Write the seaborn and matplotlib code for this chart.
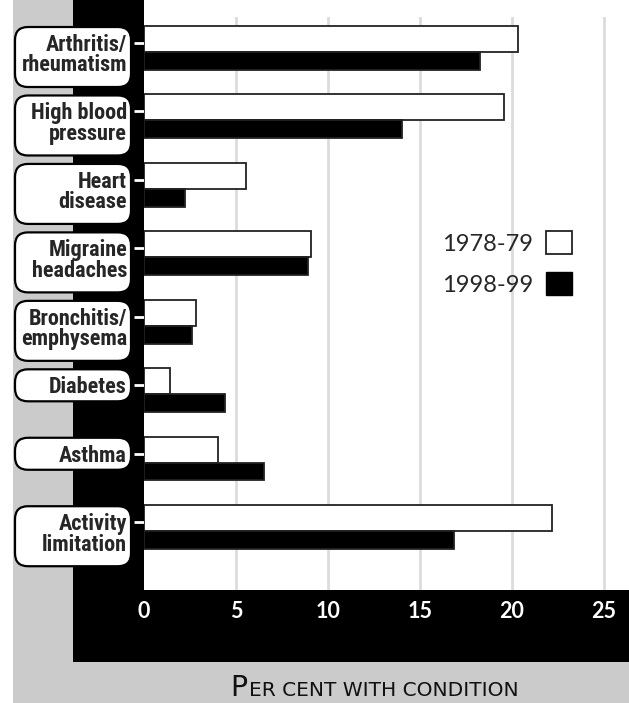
import pandas as pd
import seaborn as sns
import matplotlib.pyplot as plt
from matplotlib.patches import Rectangle, FancyBboxPatch, Patch
from matplotlib import font_manager

conditions = ["Arthritis/\nrheumatism", "High blood\npressure", "Heart\ndisease",
              "Migraine\nheadaches", "Bronchitis/\nemphysema", "Diabetes",
              "Asthma", "Activity\nlimitation"]
rate_1978 = [20.3, 19.55, 5.55, 9.05, 2.85, 1.4, 4.0, 22.2]
rate_1998 = [18.25, 14.0, 2.25, 8.9, 2.6, 4.4, 6.5, 16.85]
periods = ["1978-79", "1998-99"]
xticks = [0, 5, 10, 15, 20, 25]

df = pd.DataFrame({
    "condition": conditions * 2,
    "rate": rate_1978 + rate_1998,
    "period": [periods[0]] * len(conditions) + [periods[1]] * len(conditions),
})

sns.set_style("white")
plt.rcParams["font.family"] = ["Lato", "DejaVu Sans"]

names = {f.name for f in font_manager.fontManager.ttflist}
label_font = "Roboto Condensed" if "Roboto Condensed" in names else "Lato"
label_size = 16 if label_font == "Roboto Condensed" else 14

W, H = 629, 703
fig = plt.figure(figsize=(W / 100, H / 100), dpi=100, facecolor="#cbcbcb")

# background panels
fig.add_artist(Rectangle((0, 0), 13 / W, 1, transform=fig.transFigure,
                         facecolor="white", edgecolor="none", zorder=-2))
fig.add_artist(Rectangle((73 / W, 41 / H), 1, 1, transform=fig.transFigure,
                         facecolor="black", edgecolor="none", zorder=-2))
fig.add_artist(Rectangle((144 / W, 1 - 17 / H), 1, 1, transform=fig.transFigure,
                         facecolor="white", edgecolor="none", zorder=-1))

ax = fig.add_axes([144 / W, 113 / H, 485 / W, 573 / H])
ax.set_facecolor("white")

sns.barplot(data=df, y="condition", x="rate", hue="period", orient="h",
            palette=["white", "black"], edgecolor="#222222", linewidth=1.3,
            width=0.64, saturation=1, ax=ax)

# white bars are taller than the black ones in the original
for i, bar in enumerate(ax.containers[0]):
    bar.set_y(i - 0.25)
    bar.set_height(0.38)
for i, bar in enumerate(ax.containers[1]):
    bar.set_y(i + 0.13)
    bar.set_height(0.26)

ax.set_xlim(0, 26.36)
ax.set_ylim(7.99, -0.38)
ax.set_xticks(xticks)
ax.set_xticklabels([str(t) for t in xticks], color="white", fontweight="bold",
                   fontsize=15.5)
ax.set_yticks(range(len(conditions)))
ax.set_yticklabels([])
ax.tick_params(axis="x", length=0, pad=8)
ax.tick_params(axis="y", left=True, direction="out", length=7, width=2, color="white")
ax.set_xlabel("")
ax.set_ylabel("")
ax.xaxis.grid(True, color="#dcdcdc", linewidth=2)
ax.get_xgridlines()[0].set_visible(False)
ax.set_axisbelow(True)
for s in ax.spines.values():
    s.set_visible(False)

ax.legend(handles=[Patch(facecolor="white", edgecolor="#222222", linewidth=1.3),
                   Patch(facecolor="black", edgecolor="black")],
          labels=periods, loc="center right", bbox_to_anchor=(0.927, 0.57),
          frameon=False, markerfirst=False, fontsize=17, handlelength=1.1,
          handleheight=1.1, handletextpad=0.55, labelspacing=0.75)

# category labels in rounded boxes
inch = fig.dpi_scale_trans
for i, name in enumerate(conditions):
    ty = ax.transData.transform((0, i))[1]
    two = "\n" in name
    bh = 60 if two else 32
    cy = ty - 14 if two else ty
    box = FancyBboxPatch((15 / 100, (cy - bh / 2) / 100), 116 / 100, bh / 100,
                         boxstyle="round,pad=0,rounding_size=0.13",
                         transform=inch, facecolor="white", edgecolor="black",
                         linewidth=1.6, zorder=3)
    fig.add_artist(box)
    fig.text(127 / 100, (ty + 9) / 100, name, transform=inch, ha="right",
             va="top", ma="right", fontsize=label_size, fontweight="bold",
             family=[label_font, "DejaVu Sans"], linespacing=0.9, zorder=4)

# small caps axis title, centred under the original's span
fig.canvas.draw()
p = fig.text(0, 7 / H, "P", fontsize=20.5, family="DejaVu Sans", color="#111111")
rest = fig.text(0, 7 / H, "ER CENT WITH CONDITION", fontsize=14.5,
                family="DejaVu Sans", color="#111111")
fig.canvas.draw()
pw = p.get_window_extent().width
rw = rest.get_window_extent().width
x0 = 374.5 - (pw + 1 + rw) / 2
p.set_x(x0 / W)
rest.set_x((x0 + pw + 1) / W)

fig.savefig("out.png", dpi=100, facecolor=fig.get_facecolor())
